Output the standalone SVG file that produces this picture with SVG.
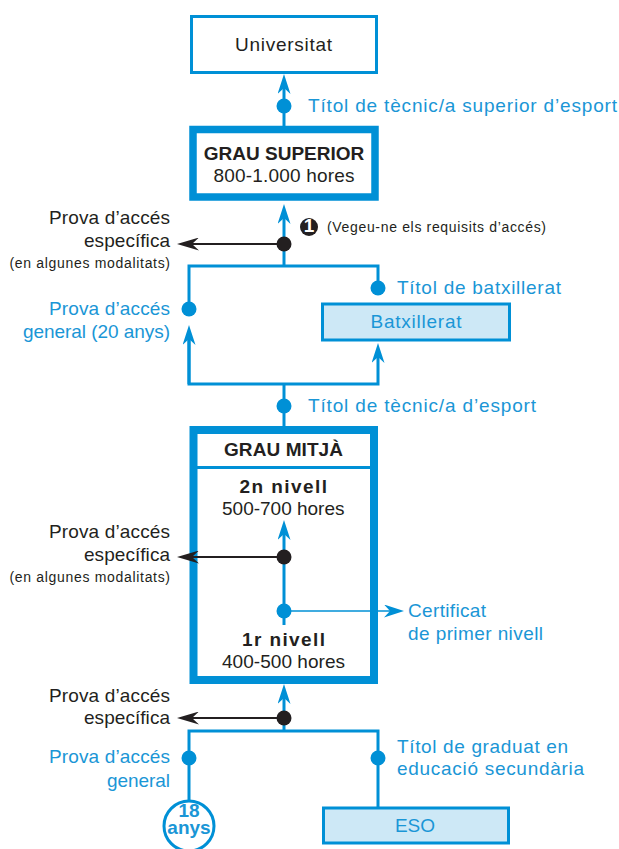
<svg xmlns="http://www.w3.org/2000/svg" width="619" height="849" viewBox="0 0 619 849">
<style>
.t{font-family:"Liberation Sans",Arial,sans-serif;font-size:19px;fill:#231f20}
.b{fill:#1a96d6}
.bold{font-weight:bold}
.s{font-size:14px}
.ln{stroke:#0090d6;stroke-width:3;fill:none}
.lk{stroke:#231f20;stroke-width:1.8;fill:none}
.lt{stroke:#0090d6;stroke-width:1.6;fill:none}
.dB{fill:#0090d6}
.dK{fill:#231f20}
</style>
<defs>
<marker id="ab" viewBox="-20 -6.5 20 13" refX="-14" refY="0" markerWidth="20" markerHeight="13" markerUnits="userSpaceOnUse" orient="auto"><path d="M0,0 L-20,-6.5 L-14,0 L-20,6.5 Z" fill="#0090d6"/></marker>
<marker id="ak" viewBox="-22 -6.5 22 13" refX="-15" refY="0" markerWidth="22" markerHeight="13" markerUnits="userSpaceOnUse" orient="auto"><path d="M0,0 L-22,-6.5 L-15,0 L-22,6.5 Z" fill="#231f20"/></marker>
</defs>

<g id="universitat">
<rect x="191.5" y="16.5" width="185" height="56" fill="#fff" stroke="#0090d6" stroke-width="3"/>
<text class="t" x="235" y="51" textLength="97" lengthAdjust="spacing">Universitat</text>
</g>
<text class="t b" x="308" y="112" textLength="309" lengthAdjust="spacing">Títol de tècnic/a superior d’esport</text>

<g id="grau-superior">
<rect x="193" y="129.5" width="182" height="67.5" fill="#fff" stroke="#0090d6" stroke-width="7.5"/>
<text class="t bold" x="284" y="160" text-anchor="middle" font-size="18">GRAU SUPERIOR</text>
<text class="t" x="213.5" y="182" textLength="141" lengthAdjust="spacing">800-1.000 hores</text>
</g>

<g id="note1">
<circle cx="309" cy="227" r="9" fill="#231f20"/>
<text class="t bold" x="309" y="232" text-anchor="middle" font-size="13" style="fill:#fff">1</text>
<text class="t s" x="327" y="232" textLength="219" lengthAdjust="spacing">(Vegeu-ne els requisits d’accés)</text>
</g>

<g id="prova-especifica-1">
<text class="t" x="49" y="224" textLength="121" lengthAdjust="spacing">Prova d’accés</text>
<text class="t" x="84" y="247" textLength="86" lengthAdjust="spacing">específica</text>
<text class="t s" x="9.5" y="268" textLength="160.5" lengthAdjust="spacing">(en algunes modalitats)</text>
</g>

<g id="prova-general-20">
<text class="t b" x="49" y="315" textLength="121" lengthAdjust="spacing">Prova d’accés</text>
<text class="t b" x="23" y="338" textLength="147" lengthAdjust="spacing">general (20 anys)</text>
</g>

<text class="t b" x="397" y="294" textLength="164" lengthAdjust="spacing">Títol de batxillerat</text>
<g id="batxillerat">
<rect x="322.5" y="304" width="187" height="36" fill="#cde8f6" stroke="#0090d6" stroke-width="3"/>
<text class="t b" x="370.5" y="328" textLength="91" lengthAdjust="spacing">Batxillerat</text>
</g>

<text class="t b" x="308" y="412" textLength="228" lengthAdjust="spacing">Títol de tècnic/a d’esport</text>

<g id="grau-mitja">
<rect x="193.5" y="430" width="180.5" height="250" fill="#fff" stroke="#0090d6" stroke-width="8"/>
<line x1="197" y1="467.5" x2="370" y2="467.5" stroke="#0090d6" stroke-width="3"/>
<text class="t bold" x="224" y="456" font-size="17" textLength="119" lengthAdjust="spacing">GRAU MITJÀ</text>
<text class="t bold" x="239.5" y="493" font-size="20" textLength="87.5" lengthAdjust="spacing">2n nivell</text>
<text class="t" x="222" y="515" textLength="122.5" lengthAdjust="spacing">500-700 hores</text>
<text class="t bold" x="242" y="646" font-size="20" textLength="83" lengthAdjust="spacing">1r nivell</text>
<text class="t" x="222" y="668" textLength="123" lengthAdjust="spacing">400-500 hores</text>
</g>

<g id="prova-especifica-2">
<text class="t" x="49" y="538" textLength="121" lengthAdjust="spacing">Prova d’accés</text>
<text class="t" x="84" y="561" textLength="86" lengthAdjust="spacing">específica</text>
<text class="t s" x="9.5" y="582" textLength="160.5" lengthAdjust="spacing">(en algunes modalitats)</text>
</g>

<g id="certificat">
<text class="t b" x="408" y="617" textLength="78" lengthAdjust="spacing">Certificat</text>
<text class="t b" x="408" y="640" textLength="135" lengthAdjust="spacing">de primer nivell</text>
</g>

<g id="prova-especifica-3">
<text class="t" x="49" y="702" textLength="121" lengthAdjust="spacing">Prova d’accés</text>
<text class="t" x="84" y="724" textLength="86" lengthAdjust="spacing">específica</text>
</g>

<g id="prova-general">
<text class="t b" x="49" y="763" textLength="121" lengthAdjust="spacing">Prova d’accés</text>
<text class="t b" x="107" y="787" textLength="63" lengthAdjust="spacing">general</text>
</g>

<g id="titol-graduat">
<text class="t b" x="397" y="753" textLength="171" lengthAdjust="spacing">Títol de graduat en</text>
<text class="t b" x="397" y="775" textLength="187" lengthAdjust="spacing">educació secundària</text>
</g>

<g id="anys18">
<circle cx="189" cy="826" r="25" fill="#fff" stroke="#0090d6" stroke-width="3"/>
<text class="t b bold" x="189" y="817" text-anchor="middle" font-size="12">18</text>
<text class="t b bold" x="189" y="834" text-anchor="middle" font-size="12">anys</text>
</g>

<g id="eso">
<rect x="323.5" y="808" width="185" height="35" fill="#cde8f6" stroke="#0090d6" stroke-width="3"/>
<text class="t b" x="415" y="832" text-anchor="middle">ESO</text>
</g>

<g id="connectors">
<line class="ln" x1="284" y1="126" x2="284" y2="88" marker-end="url(#ab)"/>
<line class="ln" x1="284" y1="266" x2="284" y2="218" marker-end="url(#ab)"/>
<line class="lk" x1="284" y1="244" x2="192" y2="244" marker-end="url(#ak)"/>
<polyline class="ln" points="189,309 189,266 378,266 378,288"/>
<polyline class="ln" points="189,339 189,384 378,384 378,357" marker-end="url(#ab)"/>
<line class="ln" x1="189" y1="384" x2="189" y2="339" marker-end="url(#ab)"/>
<line class="ln" x1="284" y1="384" x2="284" y2="426"/>
<line class="ln" x1="284" y1="625" x2="284" y2="534" marker-end="url(#ab)"/>
<line class="lk" x1="284" y1="557" x2="192" y2="557" marker-end="url(#ak)"/>
<line class="lt" x1="284" y1="611" x2="390" y2="611" marker-end="url(#ab)"/>
<line class="ln" x1="284" y1="731" x2="284" y2="698" marker-end="url(#ab)"/>
<line class="lk" x1="284" y1="718" x2="192" y2="718" marker-end="url(#ak)"/>
<polyline class="ln" points="189,800 189,731 378,731 378,807"/>
<circle class="dB" cx="284" cy="106" r="7.5"/>
<circle class="dK" cx="284" cy="244" r="7.5"/>
<circle class="dB" cx="189" cy="309" r="7.5"/>
<circle class="dB" cx="378" cy="288" r="7.5"/>
<circle class="dB" cx="284" cy="406" r="7.5"/>
<circle class="dK" cx="284" cy="557" r="7.5"/>
<circle class="dB" cx="284" cy="611" r="7.5"/>
<circle class="dK" cx="284" cy="718" r="7.5"/>
<circle class="dB" cx="189" cy="758" r="7.5"/>
<circle class="dB" cx="378" cy="758" r="7.5"/>
</g>
</svg>
